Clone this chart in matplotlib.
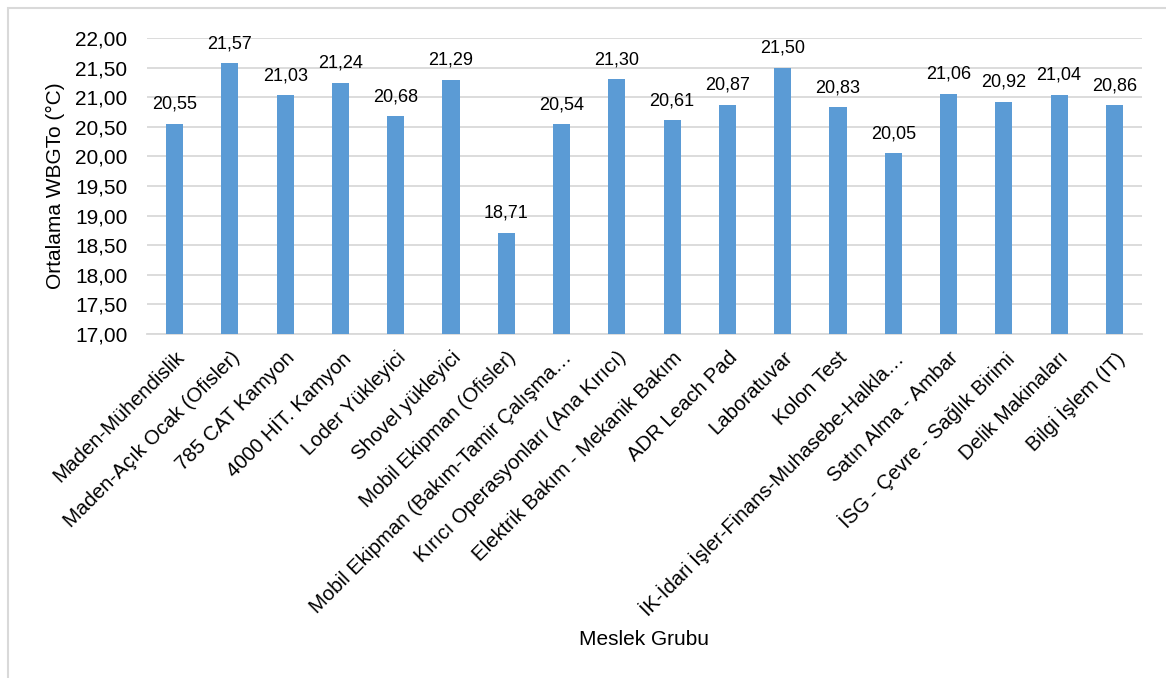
import matplotlib
matplotlib.use("Agg")
import matplotlib.pyplot as plt
from matplotlib.patches import Rectangle
from matplotlib.ticker import FuncFormatter, MultipleLocator

plt.rcParams['font.family'] = ['Liberation Sans', 'DejaVu Sans']

categories = [
    "Maden-Mühendislik",
    "Maden-Açık Ocak (Ofisler)",
    "785 CAT Kamyon",
    "4000 HİT. Kamyon",
    "Loder Yükleyici",
    "Shovel yükleyici",
    "Mobil Ekipman (Ofisler)",
    "Mobil Ekipman (Bakım-Tamir Çalışma…",
    "Kırıcı Operasyonları (Ana Kırıcı)",
    "Elektrik Bakım - Mekanik Bakım",
    "ADR Leach Pad",
    "Laboratuvar",
    "Kolon Test",
    "İK-İdari İşler-Finans-Muhasebe-Halkla…",
    "Satın Alma - Ambar",
    "İSG - Çevre - Sağlık Birimi",
    "Delik Makinaları",
    "Bilgi İşlem (IT)",
]
wbgt_means = [20.55, 21.57, 21.03, 21.24, 20.68, 21.29, 18.71, 20.54, 21.30,
              20.61, 20.87, 21.50, 20.83, 20.05, 21.06, 20.92, 21.04, 20.86]

y_min, y_max, y_step = 17.0, 22.0, 0.5
y_label = "Ortalama WBGTo (°C)"
x_label = "Meslek Grubu"

bar_color = "#5b9bd5"
grid_color = "#d9d9d9"


def comma_fmt(v):
    return f"{v:.2f}".replace(".", ",")


W, H = 1166, 678
fig = plt.figure(figsize=(W / 100, H / 100), dpi=100)
ax = fig.add_axes([147 / W, 1 - 334 / H, (1142 - 147) / W, (334 - 38) / H])

x = list(range(len(categories)))
ax.bar(x, [v - y_min for v in wbgt_means], bottom=y_min, width=0.31,
       color=bar_color, zorder=3)

for xi, v in zip(x, wbgt_means):
    ax.annotate(comma_fmt(v), xy=(xi, v), xytext=(0, 8),
                textcoords="offset points", ha="center", va="bottom",
                fontsize=13, color="#000000")

ax.set_ylim(y_min, y_max)
ax.set_xlim(-0.5, len(categories) - 0.5)
ax.yaxis.set_major_locator(MultipleLocator(y_step))
ax.yaxis.set_major_formatter(FuncFormatter(lambda v, p: comma_fmt(v)))
ax.grid(axis="y", color=grid_color, linewidth=1.3, zorder=0)
ax.set_axisbelow(True)

for side in ("top", "right", "left"):
    ax.spines[side].set_visible(False)
ax.spines["bottom"].set_color(grid_color)
ax.spines["bottom"].set_linewidth(1.3)

ax.tick_params(axis="y", length=0, pad=14, labelsize=15)
ax.tick_params(axis="x", length=0, pad=10, labelsize=14.7)
ax.set_xticks(x)
ax.set_xticklabels(categories, rotation=45, ha="right", rotation_mode="anchor")

ax.set_ylabel(y_label, fontsize=15, va="center")
ax.yaxis.set_label_coords((55 - 147) / (1142 - 147), 0.5)
ax.set_xlabel(x_label, fontsize=15)
ax.xaxis.set_label_coords((644 - 147) / (1142 - 147), (334 - 640) / (334 - 38))
ax.xaxis.label.set_verticalalignment("center")

fig.patches.append(Rectangle((8 / W, -0.1), 1.2, (H - 8) / H + 0.1,
                             transform=fig.transFigure, fill=False,
                             edgecolor=grid_color, linewidth=1.5))

fig.savefig("out.png", dpi=100, facecolor="white")
